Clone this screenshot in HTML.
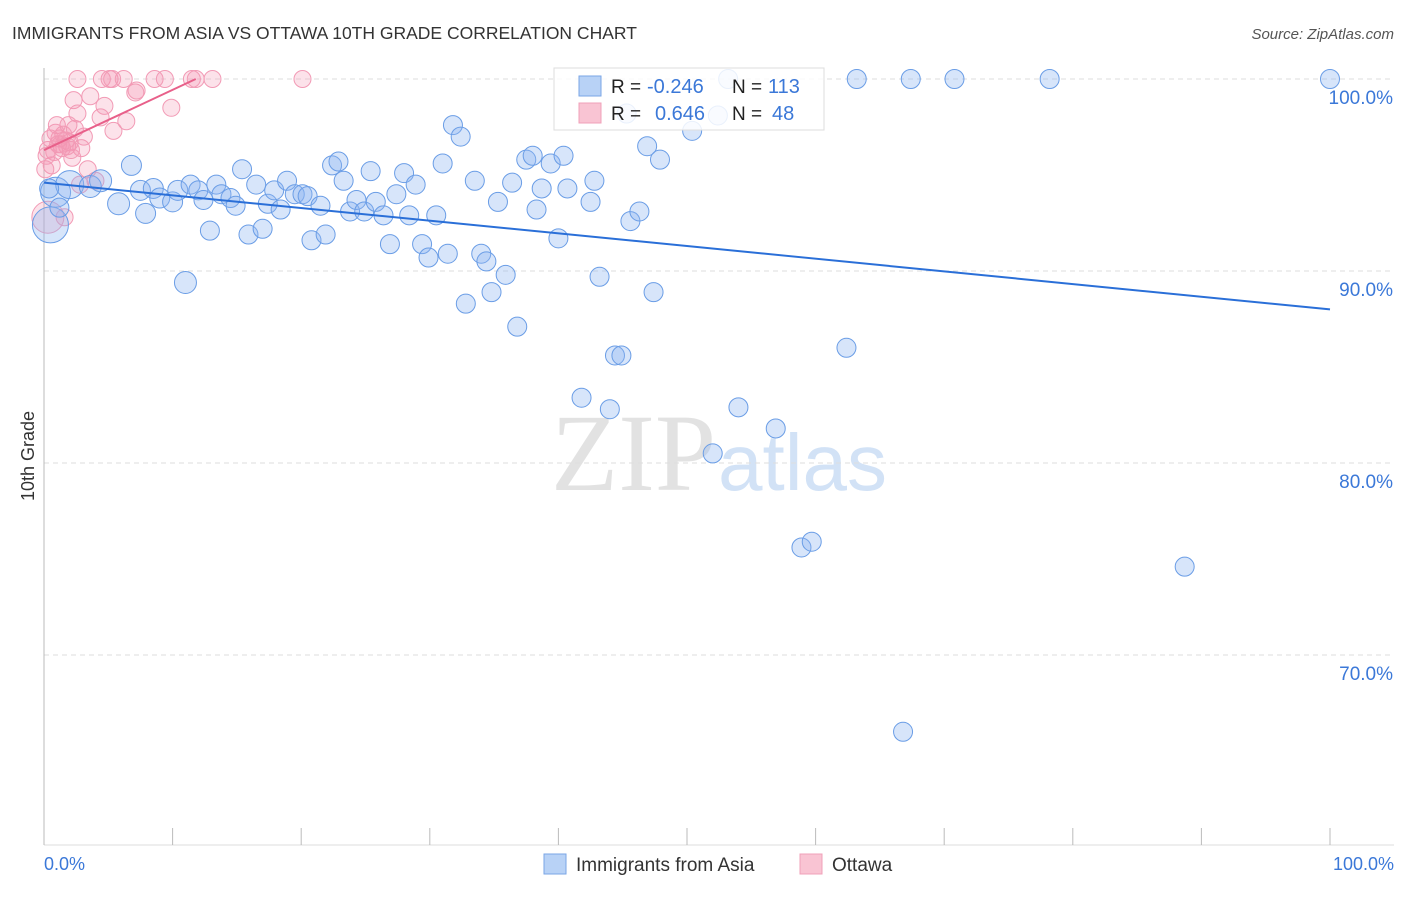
<!DOCTYPE html>
<html><head><meta charset="utf-8"><style>
body{margin:0;background:#fff;font-family:"Liberation Sans",sans-serif}
</style></head><body>
<svg width="1406" height="892" viewBox="0 0 1406 892" xmlns="http://www.w3.org/2000/svg" font-family="Liberation Sans, sans-serif">
<text x="12" y="39" font-size="17.5" fill="#333">IMMIGRANTS FROM ASIA VS OTTAWA 10TH GRADE CORRELATION CHART</text>
<text x="1394" y="39" font-size="15" fill="#555" font-style="italic" text-anchor="end">Source: ZipAtlas.com</text>
<text x="716" y="490" font-size="110" fill="#e2e2e2" text-anchor="end" font-family="Liberation Serif, serif">ZIP</text>
<text x="718" y="490" font-size="80" fill="#d2e2f6">atlas</text>
<g id="grid"></g>
<line x1="44" y1="68" x2="44" y2="845" stroke="#bbb"/>
<line x1="44" y1="845" x2="1394" y2="845" stroke="#ddd"/>
<g id="ticks"></g>
<g id="pts"></g>
<g id="lines"></g>
<text transform="translate(34,456) rotate(-90)" font-size="18" fill="#333" text-anchor="middle">10th Grade</text>
<text x="44" y="870" font-size="18" fill="#3b78d8">0.0%</text>
<text x="1394" y="870" font-size="18" fill="#3b78d8" text-anchor="end">100.0%</text>
<g>
<rect x="554" y="68" width="270" height="62" fill="#fff" fill-opacity="0.85" stroke="#ddd"/>
<rect x="579" y="76" width="22" height="20" fill="#b8d2f6" stroke="#7aa6e6"/>
<rect x="579" y="103" width="22" height="20" fill="#f9c4d3" stroke="#f0a0b8"/>
<text x="611" y="93" font-size="19" fill="#222">R =</text>
<text x="647" y="93" font-size="20" fill="#3b78d8">-0.246</text>
<text x="732" y="93" font-size="19" fill="#222">N =</text>
<text x="768" y="93" font-size="20" fill="#3b78d8">113</text>
<text x="611" y="120" font-size="19" fill="#222">R =</text>
<text x="655" y="120" font-size="20" fill="#3b78d8">0.646</text>
<text x="732" y="120" font-size="19" fill="#222">N =</text>
<text x="772" y="120" font-size="20" fill="#3b78d8">48</text>
</g>
<g>
<rect x="544" y="854" width="22" height="20" fill="#b8d2f6" stroke="#7aa6e6"/>
<text x="576" y="871" font-size="19" fill="#333">Immigrants from Asia</text>
<rect x="800" y="854" width="22" height="20" fill="#f9c4d3" stroke="#f0a0b8"/>
<text x="832" y="871" font-size="19" fill="#333">Ottawa</text>
</g>
</svg>
<script>
const yTicks=[100,90,80,70];
const xTickVals=[0,10,20,30,40,50,60,70,80,90,100];
const blueX=[0.5,0.9,2.0,3.6,4.4,5.8,6.8,7.9,7.5,8.5,9.0,10.0,10.4,11.0,11.4,12.0,12.4,12.9,13.4,13.8,14.5,14.9,15.4,15.9,16.5,17.0,17.4,17.9,18.4,18.9,19.5,20.1,20.5,20.8,21.5,21.9,22.4,22.9,23.3,23.8,24.3,24.9,25.4,25.8,26.4,26.9,27.4,28.0,28.4,28.9,29.4,29.9,30.5,31.0,31.4,31.8,32.4,32.8,33.5,34.0,34.4,34.8,35.3,35.9,36.4,36.8,37.5,38.0,38.3,38.7,39.4,40.0,40.4,40.7,41.8,42.5,42.8,43.2,44.0,44.4,44.9,45.6,46.3,46.9,47.4,47.9,50.4,52.0,52.4,53.2,54.0,56.9,58.9,59.7,62.4,63.2,66.8,67.4,70.8,78.2,88.7,100,45.3,0.4,1.2];
const blueY=[92.4,94.1,94.5,94.4,94.7,93.5,95.5,93.0,94.2,94.3,93.8,93.6,94.2,89.4,94.5,94.2,93.7,92.1,94.5,94.0,93.8,93.4,95.3,91.9,94.5,92.2,93.5,94.2,93.2,94.7,94.0,94.0,93.9,91.6,93.4,91.9,95.5,95.7,94.7,93.1,93.7,93.1,95.2,93.6,92.9,91.4,94.0,95.1,92.9,94.5,91.4,90.7,92.9,95.6,90.9,97.6,97.0,88.3,94.7,90.9,90.5,88.9,93.6,89.8,94.6,87.1,95.8,96.0,93.2,94.3,95.6,91.7,96.0,94.3,83.4,93.6,94.7,89.7,82.8,85.6,85.6,92.6,93.1,96.5,88.9,95.8,97.3,80.5,98.1,100,82.9,81.8,75.6,75.9,86.0,100,66.0,100,100,100,74.6,100,98.2,94.3,93.3];
const blueR=[18,15,14,11,11,11,10,10,10,10,10,10,10,11];
const pinkX=[2.6,4.5,5.1,5.3,6.2,8.6,9.4,11.5,11.8,13.1,20.1,7.1,7.2,9.9,2.3,3.6,4.7,2.6,4.4,6.4,5.4,1.0,1.9,1.1,2.0,0.3,2.9,2.2,0.6,3.4,2.8,1.6,0.3,1.2,1.5,0.5,0.1,4.0,1.8,0.8,2.4,1.4,3.1,0.2,1.7,2.1,0.9,1.3];
const pinkY=[100,100,100,100,100,100,100,100,100,100,100,99.3,99.4,98.5,98.9,99.1,98.6,98.2,98.0,97.8,97.3,97.6,97.6,96.6,96.7,96.3,96.4,95.9,95.5,95.3,94.5,92.8,92.8,96.9,97.1,96.9,95.3,94.7,96.5,96.2,97.4,96.4,97.0,96.0,96.8,96.3,97.2,96.6];
const blueTrendX=[0,100], blueTrendY=[94.6,88.0];
const pinkTrendX=[0,11.8], pinkTrendY=[96.3,100];
const X0=44,X1=1330,YTOP=79,PXPER=19.2;
const sx=v=>X0+(X1-X0)*v/100;
const sy=v=>YTOP+(100-v)*PXPER;
const NS="http://www.w3.org/2000/svg";
function mk(tag,attrs,parent){const e=document.createElementNS(NS,tag);for(const k in attrs)e.setAttribute(k,attrs[k]);parent.appendChild(e);return e;}
const grid=document.getElementById('grid');
yTicks.forEach(t=>{
 const l=mk('line',{x1:44,x2:1394,y1:sy(t),y2:sy(t),stroke:'#ddd','stroke-dasharray':'5,4'},grid);
 
 
 const tx=mk('text',{x:1393,y:sy(t)+25,'font-size':19,fill:'#3b78d8','text-anchor':'end'},grid);
 tx.textContent=t.toFixed(1)+'%';
 
 
});
const ticks=document.getElementById('ticks');
xTickVals.forEach(t=>{
 const l=mk('line',{x1:sx(t),x2:sx(t),y1:828,y2:845,stroke:'#bbb'},ticks);
 
 
});
const pts=document.getElementById('pts');
pinkX.forEach((v,i)=>{
 const c=mk('circle',{cx:sx(v),cy:sy(pinkY[i]),r:(i==32?16:8.5),fill:'rgba(244,150,180,0.28)',stroke:'#f29ab5','stroke-width':1},pts);
 
 
});
blueX.forEach((v,i)=>{
 const c=mk('circle',{cx:sx(v),cy:sy(blueY[i]),r:(blueR[i]||9.5),fill:'rgba(140,180,240,0.35)',stroke:'#6a9de6','stroke-width':1},pts);
 
 
});
const lines=document.getElementById('lines');
const bl=mk('line',{x1:sx(blueTrendX[0]),y1:sy(blueTrendY[0]),x2:sx(blueTrendX[1]),y2:sy(blueTrendY[1]),stroke:'#2a6fd8','stroke-width':2},lines);


const pl=mk('line',{x1:sx(pinkTrendX[0]),y1:sy(pinkTrendY[0]),x2:sx(pinkTrendX[1]),y2:sy(pinkTrendY[1]),stroke:'#e8608a','stroke-width':2},lines);


</script>
</body></html>
